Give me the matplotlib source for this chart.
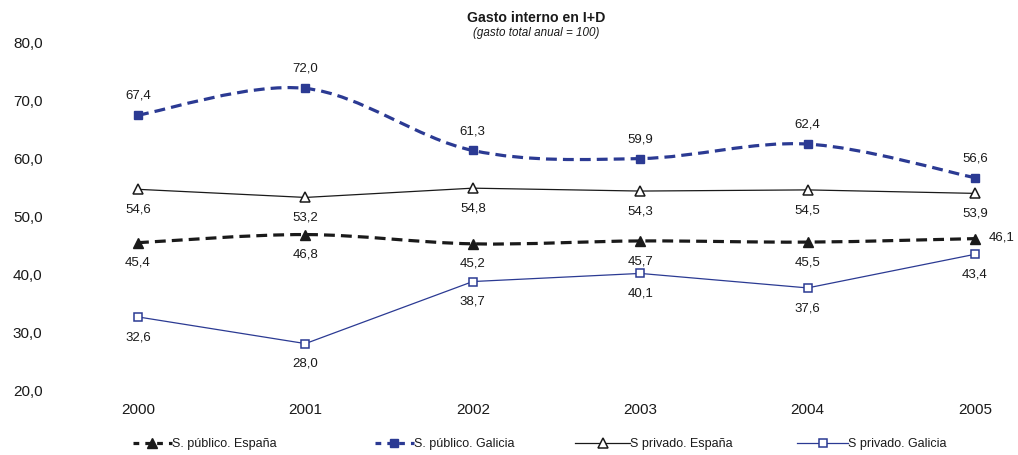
import matplotlib
matplotlib.use("Agg")
import matplotlib.pyplot as plt
from matplotlib.path import Path
from matplotlib.patches import PathPatch
from matplotlib.lines import Line2D
import numpy as np

years = [2000, 2001, 2002, 2003, 2004, 2005]
pub_esp = [45.4, 46.8, 45.2, 45.7, 45.5, 46.1]
pub_gal = [67.4, 72.0, 61.3, 59.9, 62.4, 56.6]
priv_esp = [54.6, 53.2, 54.8, 54.3, 54.5, 53.9]
priv_gal = [32.6, 28.0, 38.7, 40.1, 37.6, 43.4]
yticks = [20, 30, 40, 50, 60, 70, 80]
series_labels = ["S. público. España", "S. público. Galicia",
                 "S privado. España", "S privado. Galicia"]

BLUE = "#2b3a93"
BLACK = "#1a1a1a"

plt.rcParams['font.family'] = ['Liberation Sans', 'DejaVu Sans']

fig = plt.figure(figsize=(10.18, 4.55), dpi=100)
ax = fig.add_axes([55/1018, (455-390)/455, (1000-55)/1018, (390-42)/455])

px_per_year = (975 - 138) / 5.0
ax.set_xlim(2000 - (138 - 55) / px_per_year, 2005 + (1000 - 975) / px_per_year)
ax.set_ylim(20, 80)


def smooth_path(xs, ys, t=6.0):
    xs = np.asarray(xs, float)
    ys = np.asarray(ys, float)
    n = len(xs)
    verts = [(xs[0], ys[0])]
    codes = [Path.MOVETO]
    for i in range(n - 1):
        x0, y0 = (xs[i - 1], ys[i - 1]) if i > 0 else (xs[i], ys[i])
        x1, y1 = xs[i], ys[i]
        x2, y2 = xs[i + 1], ys[i + 1]
        x3, y3 = (xs[i + 2], ys[i + 2]) if i + 2 < n else (xs[i + 1], ys[i + 1])
        c1 = (x1 + (x2 - x0) / t, y1 + (y2 - y0) / t)
        c2 = (x2 - (x3 - x1) / t, y2 - (y3 - y1) / t)
        verts += [c1, c2, (x2, y2)]
        codes += [Path.CURVE4] * 3
    return Path(verts, codes)


DLW = 2.3
dash = (0, (3.4, 1.9))
for vals, col in [(pub_esp, BLACK), (pub_gal, BLUE)]:
    patch = PathPatch(smooth_path(years, vals), facecolor='none', edgecolor=col,
                      linewidth=DLW, linestyle=dash, zorder=2)
    ax.add_patch(patch)

ax.plot(years, pub_esp, linestyle='none', marker='^', markersize=7,
        color=BLACK, zorder=4)
ax.plot(years, pub_gal, linestyle='none', marker='s', markersize=6,
        color=BLUE, zorder=4)
ax.plot(years, priv_esp, color=BLACK, linewidth=0.9, marker='^', markersize=7,
        markerfacecolor='white', markeredgecolor=BLACK, markeredgewidth=1.1, zorder=3)
ax.plot(years, priv_gal, color=BLUE, linewidth=0.9, marker='s', markersize=6,
        markerfacecolor='white', markeredgecolor=BLUE, markeredgewidth=1.1, zorder=3)


def fmt(v):
    return f"{v:.1f}".replace('.', ',')

lab_kw = dict(fontsize=9.5, color=BLACK, ha='center', textcoords='offset points')
for x, v in zip(years, pub_esp):
    if x == 2005:
        ax.annotate(fmt(v), (x, v), xytext=(19, 1), va='center', **lab_kw)
    else:
        ax.annotate(fmt(v), (x, v), xytext=(0, -14.5), va='center', **lab_kw)
for x, v in zip(years, pub_gal):
    ax.annotate(fmt(v), (x, v), xytext=(0, 14), va='center', **lab_kw)
for x, v in zip(years, priv_esp):
    ax.annotate(fmt(v), (x, v), xytext=(0, -14.5), va='center', **lab_kw)
for x, v in zip(years, priv_gal):
    ax.annotate(fmt(v), (x, v), xytext=(0, -14.5), va='center', **lab_kw)

ax.set_yticks(yticks)
ax.set_yticklabels([fmt(t) for t in yticks])
ax.set_xticks(years)
ax.set_xticklabels([str(y) for y in years])
ax.tick_params(axis='y', length=0, pad=9, labelsize=11, colors=BLACK)
ax.tick_params(axis='x', length=0, pad=9, labelsize=11, colors=BLACK)
for s in ax.spines.values():
    s.set_visible(False)

fig.text(536/1018, 1 - 18/455, "Gasto interno en I+D", ha='center', va='center',
         fontsize=10.2, fontweight='bold', color=BLACK)
fig.text(536/1018, 1 - 33/455, "(gasto total anual = 100)", ha='center', va='center',
         fontsize=8.4, style='italic', color=BLACK)

handles = [
    Line2D([], [], color=BLACK, linewidth=DLW, linestyle=(0, (1.8, 1.9)), marker='^', markersize=7),
    Line2D([], [], color=BLUE, linewidth=DLW, linestyle=(0, (1.8, 1.9)), marker='s', markersize=6),
    Line2D([], [], color=BLACK, linewidth=0.9, marker='^', markersize=7,
           markerfacecolor='white', markeredgewidth=1.1),
    Line2D([], [], color=BLUE, linewidth=0.9, marker='s', markersize=6,
           markerfacecolor='white', markeredgewidth=1.1),
]
leg_x = [133, 375, 575, 797]
leg_hl = [3.1, 3.1, 4.4, 4.1]
for h, lab, lx, hl in zip(handles, series_labels, leg_x, leg_hl):
    lg = fig.legend([h], [lab], loc='center left', bbox_to_anchor=(lx/1018, 1 - 444/455),
                    frameon=False, fontsize=9, handlelength=hl, handletextpad=0.0,
                    borderpad=0, borderaxespad=0)
    for t in lg.get_texts():
        t.set_color(BLACK)

fig.savefig("out.png", dpi=100)
